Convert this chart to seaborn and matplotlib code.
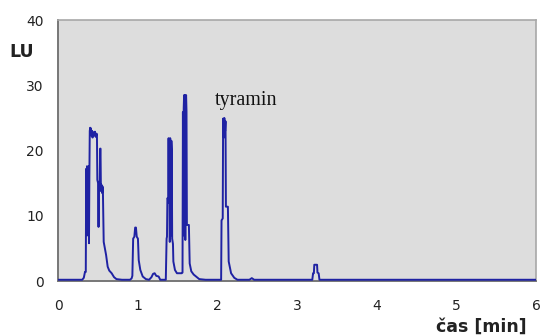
import pandas as pd
import seaborn as sns
import matplotlib.pyplot as plt

# chromatogram: time [min] and signal [LU]
time = [0.00, 0.30, 0.32, 0.335, 0.345, 0.35, 0.355, 0.36, 0.365, 0.37, 0.375, 0.38,
        0.385, 0.39, 0.395, 0.40, 0.405, 0.41, 0.42, 0.425, 0.43, 0.44, 0.45, 0.46,
        0.47, 0.48, 0.485, 0.49, 0.50, 0.505, 0.51, 0.52, 0.525, 0.53, 0.535, 0.54,
        0.55, 0.555, 0.56, 0.57, 0.585, 0.60, 0.62, 0.64, 0.67, 0.70, 0.73, 0.80,
        0.90, 0.92, 0.93, 0.94, 0.955, 0.965, 0.975, 0.985, 1.00, 1.01, 1.03, 1.06,
        1.10, 1.14, 1.17, 1.19, 1.21, 1.23, 1.26, 1.28, 1.35, 1.36, 1.365, 1.37,
        1.38, 1.385, 1.39, 1.395, 1.40, 1.405, 1.41, 1.415, 1.42, 1.425, 1.43, 1.44,
        1.445, 1.465, 1.49, 1.55, 1.56, 1.565, 1.57, 1.575, 1.58, 1.585, 1.59, 1.595,
        1.60, 1.605, 1.61, 1.615, 1.64, 1.65, 1.67, 1.70, 1.73, 1.77, 1.85, 2.00,
        2.045, 2.05, 2.065, 2.07, 2.075, 2.08, 2.085, 2.09, 2.095, 2.10, 2.105, 2.13,
        2.14, 2.17, 2.21, 2.25, 2.40, 2.43, 2.46, 3.15, 3.19, 3.20, 3.21, 3.215,
        3.25, 3.255, 3.27, 3.28, 6.00]
signal = [0.2, 0.2, 0.5, 1.4, 1.4, 17.2, 9.0, 17.6, 7.0, 17.0, 9.5, 17.6,
          5.8, 16.0, 23.0, 23.5, 22.4, 23.4, 22.2, 23.0, 22.0, 22.8, 22.3, 22.9,
          22.1, 22.6, 22.5, 15.5, 15.0, 8.3, 15.2, 14.5, 20.3, 20.3, 13.8, 14.8,
          13.5, 14.5, 13.8, 6.0, 5.0, 4.0, 2.2, 1.6, 1.2, 0.6, 0.3, 0.2,
          0.2, 0.4, 0.8, 6.5, 6.8, 8.2, 8.2, 6.8, 6.5, 3.2, 1.7, 0.7,
          0.3, 0.2, 0.6, 1.1, 1.2, 0.8, 0.7, 0.2, 0.2, 6.5, 6.8, 12.7,
          12.5, 21.9, 12.0, 21.5, 6.0, 21.9, 21.0, 7.0, 21.5, 20.0, 6.5, 5.7,
          3.0, 1.7, 1.2, 1.2, 1.3, 25.9, 7.0, 26.5, 28.5, 26.0, 28.5, 6.3,
          27.5, 28.5, 26.0, 8.6, 8.6, 2.7, 1.5, 1.0, 0.7, 0.3, 0.2, 0.2,
          0.2, 9.3, 9.6, 24.9, 24.5, 22.0, 25.0, 24.2, 23.0, 24.5, 11.4, 11.4,
          3.0, 1.2, 0.5, 0.2, 0.2, 0.45, 0.2, 0.2, 0.2, 1.2, 1.2, 2.5,
          2.5, 1.3, 1.2, 0.2, 0.2]

x_ticks = [0, 1, 2, 3, 4, 5, 6]
y_ticks = [0, 10, 20, 30, 40]
peak_label = "tyramin"
peak_pos = (1.97, 27.0)

df = pd.DataFrame({"cas": time, "LU": signal})

sns.set_style("white", {"axes.facecolor": "#dddddd"})
plt.rcParams['font.family'] = ['DejaVu Sans']

fig = plt.figure(figsize=(5.4, 3.35), dpi=100)
ax = fig.add_axes([0.108, 0.161, 0.8846, 0.779])

sns.lineplot(data=df, x="cas", y="LU", estimator=None, sort=False,
             color="#1f22a3", linewidth=1.4, zorder=3, ax=ax)

ax.set_xlim(0, 6)
ax.set_ylim(0, 40)
ax.set_xticks(x_ticks)
ax.set_yticks(y_ticks)
ax.set_xlabel("")
ax.set_ylabel("")
ax.tick_params(axis="both", direction="out", length=3.6, width=1,
               color="#808080", labelsize=10, labelcolor="#222222")
ax.tick_params(axis="x", pad=9)
ax.tick_params(axis="y", pad=7)

for side in ["left", "bottom"]:
    ax.spines[side].set_color("#777777")
    ax.spines[side].set_linewidth(1.4)
for side in ["top", "right"]:
    ax.spines[side].set_visible(True)
    ax.spines[side].set_color("#a8a8a8")
    ax.spines[side].set_linewidth(1.2)

ax.text(peak_pos[0], peak_pos[1], peak_label, family="Liberation Serif",
        fontsize=14.5, ha="left", va="baseline", color="#111111")

fig.text(0.041, 0.845, "LU", fontsize=12.5, fontweight="bold",
         ha="center", va="center", color="#222222")
fig.text(0.976, 0.024, "čas [min]", fontsize=12.5, fontweight="bold",
         ha="right", va="center", color="#222222")

fig.savefig("out.png", dpi=100)
